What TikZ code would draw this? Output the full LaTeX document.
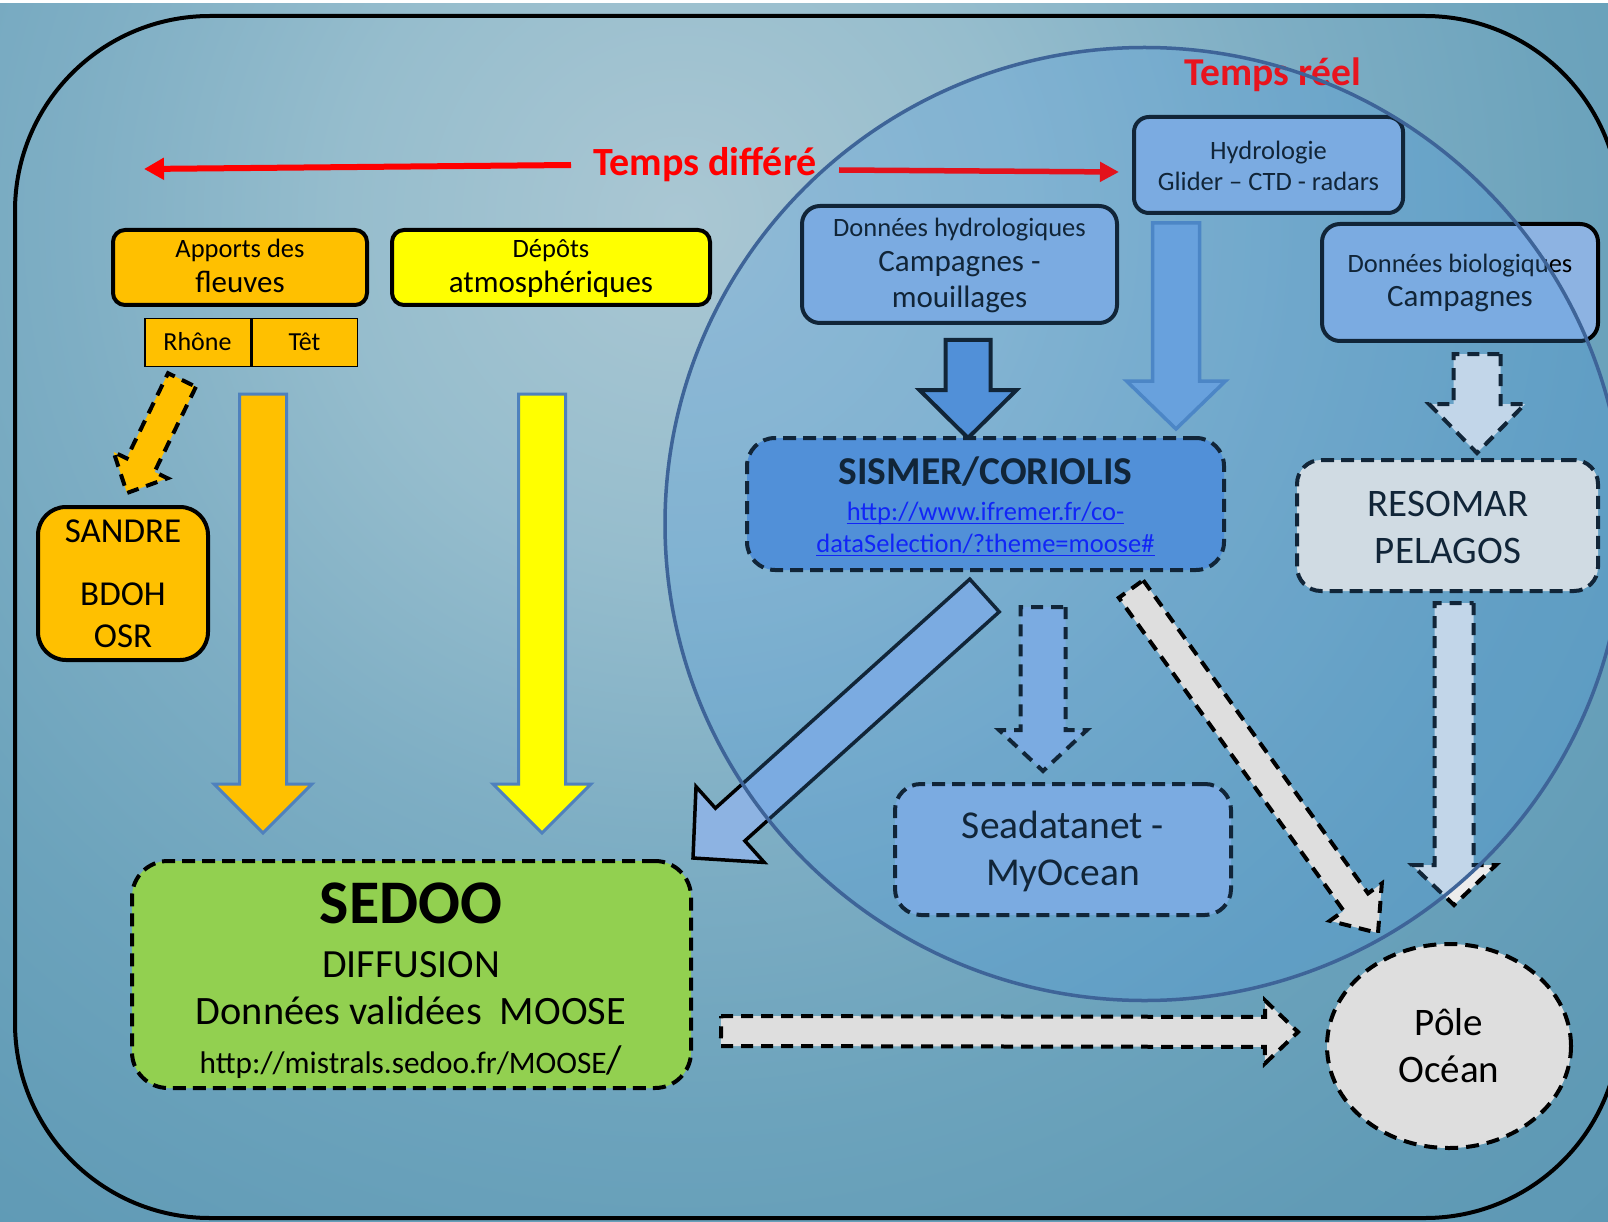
\documentclass[tikz,border=0pt]{standalone}
\usepackage{fontspec}
\setmainfont{Carlito}
\usetikzlibrary{calc,arrows.meta,shapes.geometric}
\definecolor{bgA}{RGB}{170,199,211}
\definecolor{bgB}{RGB}{150,189,205}
\definecolor{bgC}{RGB}{126,174,196}
\definecolor{bgD}{RGB}{108,163,188}
\definecolor{bgE}{RGB}{97,155,182}
\definecolor{bgF}{RGB}{90,150,179}
\definecolor{orangeF}{RGB}{255,192,0}
\definecolor{yellowF}{RGB}{255,255,0}
\definecolor{greenF}{RGB}{146,208,80}
\definecolor{lightblueF}{RGB}{141,179,226}
\definecolor{midblueF}{RGB}{85,142,213}
\definecolor{hydroArrF}{RGB}{116,165,220}
\definecolor{grayF}{RGB}{222,222,222}
\definecolor{grayG}{RGB}{236,236,236}
\definecolor{resoF}{RGB}{255,243,229}
\definecolor{outlineBlue}{RGB}{79,129,189}
\definecolor{ovBlue}{RGB}{70,150,225}
\definecolor{circLine}{RGB}{62,100,152}
\definecolor{redA}{RGB}{255,0,0}
\definecolor{redB}{RGB}{227,18,28}
\definecolor{redC}{RGB}{232,20,30}
\definecolor{linkBlue}{RGB}{0,0,255}
\pgfdeclareradialshading{bgshade}{\pgfpoint{0bp}{0bp}}{color(0bp)=(bgA); color(5.6bp)=(bgB); color(10.3bp)=(bgC); color(15bp)=(bgD); color(19.6bp)=(bgE); color(25bp)=(bgF); color(50bp)=(bgF)}
\newcommand\myfs[1]{\fontsize{#1}{#1}\selectfont}
% fat block arrow: #1 style, #2 tail, #3 tip, #4 half shaft, #5 half head, #6 head length
\newcommand\fatarrow[6]{%
  \coordinate (fahb) at ($(#3)!#6!(#2)$);
  \path[#1] ($(#2)!#4!90:(#3)$) -- ($(fahb)!#4!90:(#3)$) -- ($(fahb)!#5!90:(#3)$)
    -- (#3) -- ($(fahb)!#5!-90:(#3)$) -- ($(fahb)!#4!-90:(#3)$) -- ($(#2)!#4!-90:(#3)$) -- cycle;
}
\begin{document}
\begin{tikzpicture}[x=1pt,y=-1pt,
  txt/.style={inner sep=0pt, anchor=base, text=black},
  solidbox/.style={draw=black, line width=4pt, rounded corners=#1, inner sep=0pt},
  solidbox/.default=15pt,
  dashbox/.style={draw=black, line width=4pt, dash pattern=on 13pt off 7pt, rounded corners=#1, inner sep=0pt},
  dashbox/.default=26pt,
  bluearrow/.style={fill=#1, draw=outlineBlue, line width=3pt, line join=miter},
  blackarrow/.style={fill=#1, draw=black, line width=4pt, line join=miter},
  dasharrow/.style={fill=#1, draw=black, line width=4pt, dash pattern=on 12pt off 8pt, line join=miter},
  redline/.style={line width=6pt}
]
\useasboundingbox (0,0) rectangle (1608,1222);
\clip (0,0) rectangle (1608,1222);
% background
\fill[bgF] (0,0) rectangle (1608,1222);
\shade[shading=bgshade] (680,220) circle (1500pt);
\fill[white] (0,0) rectangle (1608,3);
% outer frame
\draw[black, line width=4pt, rounded corners=195pt] (15,16) rectangle (1620,1218);

% left boxes
\node[solidbox=12pt, fill=orangeF, minimum width=254pt, minimum height=75pt] (apports) at (240,267.5) {};
\node[txt, font=\myfs{26.5}] (apT1) at (240,258) {Apports des};
\node[txt, font=\myfs{31}] (apT2) at (240,293) {fleuves};
\node[solidbox=12pt, fill=yellowF, minimum width=318pt, minimum height=75pt] (depots) at (551,267.5) {};
\node[txt, font=\myfs{26.5}] (dpT1) at (551,258) {Dépôts};
\node[txt, font=\myfs{31}] (dpT2) at (551,293) {atmosphériques};
\node[draw=black, line width=1.5pt, fill=orangeF, minimum width=105.5pt, minimum height=47.5pt, inner sep=0pt] (rhone) at (197.5,342.5) {};
\node[draw=black, line width=1.5pt, fill=orangeF, minimum width=105.5pt, minimum height=47.5pt, inner sep=0pt] (tet) at (304.5,342.5) {};
\node[txt, font=\myfs{26}] (rhT) at (197.5,351) {Rhône};
\node[txt, font=\myfs{26}] (ttT) at (304.5,351) {Têt};
\node[solidbox=28pt, fill=orangeF, minimum width=170pt, minimum height=153pt] (sandre) at (123,583.5) {};
\node[txt, font=\myfs{35}] (saT1) at (123,542) {SANDRE};
\node[txt, font=\myfs{35}] (saT2) at (123,605) {BDOH};
\node[txt, font=\myfs{35}] (saT3) at (123,647) {OSR};

\coordinate (rhA1) at (182,380); \coordinate (rhA2) at (127,493);
\fatarrow{dasharrow=orangeF}{rhA1}{rhA2}{15.5pt}{30pt}{31pt}
\coordinate (orA1) at (263,394); \coordinate (orA2) at (263,833);
\fatarrow{bluearrow=orangeF}{orA1}{orA2}{23.5pt}{49pt}{49pt}
\coordinate (yeA1) at (542,394); \coordinate (yeA2) at (542,833);
\fatarrow{bluearrow=yellowF}{yeA1}{yeA2}{23.5pt}{49pt}{49pt}

% SEDOO
\node[dashbox=36pt, fill=greenF, minimum width=559pt, minimum height=227pt] (sedoo) at (411.5,974.5) {};
\node[txt, font=\myfs{62}\bfseries] (seT1) at (411,923) {SEDOO};
\node[txt, font=\myfs{40}] (seT2) at (411,977) {DIFFUSION};
\node[txt, font=\myfs{40.3}] (seT3) at (411,1024) {Données validées~~MOOSE};
\node[txt, font=\myfs{31.3}] (seT4) at (411,1073) {http://mistrals.sedoo.fr/MOOSE{\myfs{40}/}};

\coordinate (spA1) at (721,1031); \coordinate (spA2) at (1298,1032);
\fatarrow{dasharrow=grayF}{spA1}{spA2}{15pt}{31.5pt}{33pt}

% Pole Ocean
\node[ellipse, draw=black, line width=4pt, dash pattern=on 13pt off 8pt, fill=grayF, minimum width=244pt, minimum height=204pt, inner sep=0pt] (pole) at (1449,1046) {};
\node[txt, font=\myfs{39}] (poT1) at (1449,1035) {Pôle};
\node[txt, font=\myfs{39}] (poT2) at (1449,1082) {Océan};

% right side boxes
\node[solidbox=15pt, fill=lightblueF, minimum width=269pt, minimum height=96pt] (hydro) at (1268.5,165) {};
\node[txt, font=\myfs{26.5}] (hyT1) at (1268.5,160) {Hydrologie};
\node[txt, font=\myfs{26.5}] (hyT2) at (1268.5,191) {Glider – CTD - radars};
\node[solidbox=18pt, fill=lightblueF, minimum width=315pt, minimum height=117pt] (dhyd) at (959.5,264.5) {};
\node[txt, font=\myfs{26.5}] (dhT1) at (959.5,237) {Données hydrologiques};
\node[txt, font=\myfs{31}] (dhT2) at (959.5,272) {Campagnes -};
\node[txt, font=\myfs{31}] (dhT3) at (959.5,308) {mouillages};
\node[solidbox=18pt, fill=lightblueF, minimum width=276pt, minimum height=117pt] (bio) at (1460,282.5) {};
\node[txt, font=\myfs{26.5}] (biT1) at (1460,273) {Données biologiques};
\node[txt, font=\myfs{31}] (biT2) at (1460,307) {Campagnes};

\coordinate (dhA1) at (968,340); \coordinate (dhA2) at (968,438);
\fatarrow{blackarrow=midblueF}{dhA1}{dhA2}{22.5pt}{48.5pt}{48pt}
\coordinate (hyA1) at (1176,223); \coordinate (hyA2) at (1176,429);
\fatarrow{bluearrow=hydroArrF, line width=3.5pt}{hyA1}{hyA2}{23.5pt}{49.5pt}{48pt}
\coordinate (biA1) at (1477,354); \coordinate (biA2) at (1477,453);
\fatarrow{dasharrow=grayG}{biA1}{biA2}{23.5pt}{48pt}{49pt}

% SISMER
\node[dashbox=28pt, fill=midblueF, minimum width=477pt, minimum height=132pt] (sismer) at (985.5,504) {};
\node[txt, font=\myfs{39.5}\bfseries] (siT1) at (985.5,484) {SISMER/CORIOLIS};
\node[txt, font=\myfs{26.5}, text=linkBlue] (siL1) at (985.5,520) {http://www.ifremer.fr/co-};
\node[txt, font=\myfs{26.5}, text=linkBlue] (siL2) at (985.5,552) {dataSelection/?theme=moose\#};
\draw[linkBlue, line width=1.8pt] ($(siL1.base west)+(0,3.5)$) -- ($(siL1.base east)+(0,3.5)$);
\draw[linkBlue, line width=1.8pt] ($(siL2.base west)+(0,3.5)$) -- ($(siL2.base east)+(0,3.5)$);

% RESOMAR
\node[dashbox=24pt, fill=resoF, minimum width=301pt, minimum height=131pt] (resomar) at (1447.5,525.5) {};
\node[txt, font=\myfs{39}] (reT1) at (1448,516) {RESOMAR};
\node[txt, font=\myfs{39}] (reT2) at (1448,563) {PELAGOS};

% Seadatanet
\node[dashbox=26pt, fill=lightblueF, minimum width=336pt, minimum height=131pt] (seadata) at (1063,849.5) {};
\node[txt, font=\myfs{39.5}] (sdT1) at (1063,838) {Seadatanet -};
\node[txt, font=\myfs{39.5}] (sdT2) at (1063,885) {MyOcean};

\coordinate (ssA1) at (984.5,595.5); \coordinate (ssA2) at (693,858);
\fatarrow{blackarrow=lightblueF, line width=3.5pt}{ssA1}{ssA2}{22pt}{51pt}{50pt}
\coordinate (sdA1) at (1043,607); \coordinate (sdA2) at (1043,771);
\fatarrow{dasharrow=lightblueF}{sdA1}{sdA2}{22.5pt}{44pt}{41pt}
\coordinate (rpA1) at (1454,603); \coordinate (rpA2) at (1454,905);
\fatarrow{dasharrow=grayG}{rpA1}{rpA2}{19.5pt}{42pt}{40pt}

% ocean zone tint
\node[ellipse, fill=ovBlue, fill opacity=0.25, minimum width=962pt, minimum height=956pt, inner sep=0pt] (zone) at (1144.5,524) {};

% Temps differe / Temps reel (untinted)
\node[txt, font=\myfs{40}\bfseries, text=redA] (tdiff) at (705,176) {Temps différé};
\coordinate (tdLs) at (571,165);
\coordinate (tdLe) at (144,169);
\coordinate (tdRs) at (839,170);
\coordinate (tdRe) at (1119,172);
\draw[redline, redA, -{Triangle[length=20pt,width=21pt]}] (tdLs) -- (tdLe);
\draw[line width=5.5pt, redB, -{Triangle[length=19pt,width=19pt]}] (tdRs) -- (tdRe);
\node[txt, font=\myfs{39.5}\bfseries, text=redC] (treel) at (1273,86) {Temps réel};

% zone outline
\draw[circLine, line width=3.5pt] (zone.center) ellipse [x radius=479.5pt, y radius=476.5pt];

% gray arrow on top
\coordinate (spoA1) at (1131,589); \coordinate (spoA2) at (1378,933);
\fatarrow{dasharrow=grayF}{spoA1}{spoA2}{15pt}{32pt}{38pt}
\end{tikzpicture}
\end{document}
